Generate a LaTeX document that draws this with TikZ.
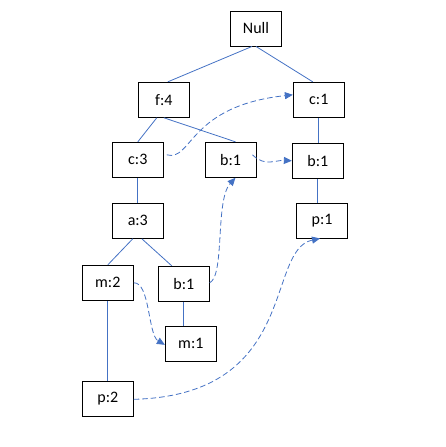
\documentclass[tikz,border=0pt]{standalone}
\usepackage{fontspec}
\setmainfont{Carlito}
\usetikzlibrary{arrows.meta}
\definecolor{linkblue}{RGB}{68,114,196}
\begin{document}
\begin{tikzpicture}[x=1pt,y=-1pt,
  box/.style={draw=black,line width=0.9pt,minimum width=51pt,minimum height=35pt,inner sep=0pt,font=\fontsize{16}{19}\selectfont},
  edge/.style={draw=linkblue,line width=0.8pt},
  link/.style={draw=linkblue,line width=0.8pt,dash pattern=on 5.5pt off 3pt,-{Triangle[length=8pt,width=7pt,fill=linkblue]}}]
\useasboundingbox (0,0) rectangle (446,447);
\node[box] (null) at (256,28.5) {Null};
\node[box] (f4) at (163.8,99.8) {f:4};
\node[box] (c1) at (318.8,99.8) {c:1};
\node[box] (c3) at (137.8,159.8) {c:3};
\node[box] (b1m) at (230.5,159.8) {b:1};
\node[box] (b1r) at (317.8,160.8) {b:1};
\node[box] (a3) at (137.8,220.8) {a:3};
\node[box] (p1) at (322,220.5) {p:1};
\node[box] (m2) at (107.8,282.8) {m:2};
\node[box] (b1l) at (183.8,283.8) {b:1};
\node[box] (m1) at (190.8,343.8) {m:1};
\node[box] (p2) at (107.8,398.8) {p:2};
% tree edges
\draw[edge] ([xshift=-4pt]null.south) -- ([xshift=4pt]f4.north);
\draw[edge] (null.south) -- ([xshift=-6pt]c1.north);
\draw[edge] ([xshift=-7pt]f4.south) -- (c3.north);
\draw[edge] (f4.south) -- ([xshift=5pt]b1m.north);
\draw[edge] (c1.south) -- (c1.south |- b1r.north);
\draw[edge] (b1r.south) -- (b1r.south |- p1.north);
\draw[edge] (c3.south) -- (a3.north);
\draw[edge] ([xshift=-5pt]a3.south) -- (m2.north);
\draw[edge] ([xshift=4pt]a3.south) -- ([xshift=-12pt]b1l.north);
\draw[edge] (m2.south) -- (p2.north);
\draw[edge] (b1l.south) -- (b1l.south |- m1.north);
% links
\draw[link] ([xshift=3pt,yshift=5pt]c3.east) .. controls (192,162) and (188,106) .. ([yshift=5pt]c1.west);
\draw[link] ([xshift=-4pt,yshift=5pt]b1m.east) .. controls (265,167) and (275,160) .. ([yshift=0pt]b1r.west);
\draw[link] ([yshift=1pt]b1l.east) .. controls (225,275) and (215,200) .. ([xshift=5pt]b1m.south);
\draw[link] ([yshift=0pt]m2.east) .. controls (150,282) and (148,335) .. ([yshift=-1pt]m1.west);
\draw[link] ([yshift=-0.5pt]p2.east) .. controls (300,395) and (265,250) .. ([xshift=-2pt]p1.south);
\end{tikzpicture}
\end{document}
